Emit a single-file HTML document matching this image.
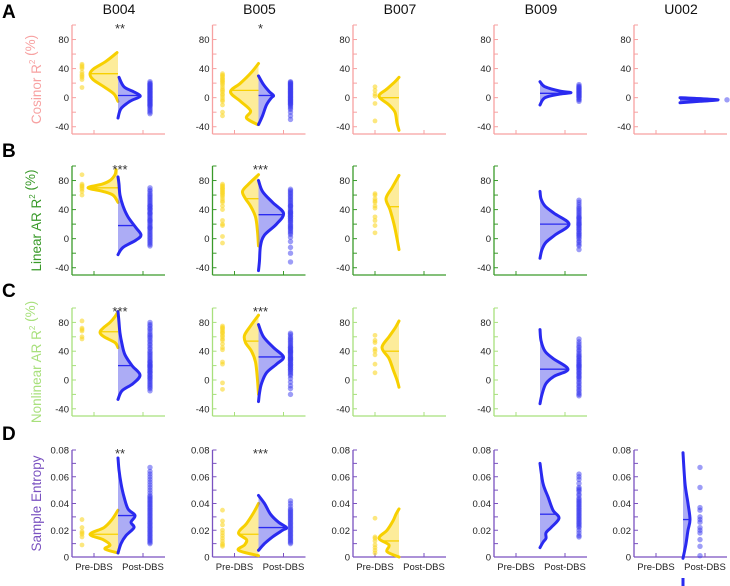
<!DOCTYPE html>
<html><head><meta charset="utf-8">
<style>
html,body{margin:0;padding:0;background:#fff;}
svg{display:block;font-family:"Liberation Sans",sans-serif;}
</style></head>
<body>
<svg id="chart" width="730" height="586" viewBox="0 0 730 586" xmlns="http://www.w3.org/2000/svg"></svg>
<script>
// ---- data ----
const subjects = ["B004","B005","B007","B009","U002"];
const rowLetters = ["A","B","C","D"];
const rowTitles = ["Cosinor R² (%)","Linear AR R² (%)","Nonlinear AR R² (%)","Sample Entropy"];
const rowColors = ["#f7a1a1","#3a9a2a","#a8e07c","#7a52c0"];
const pctTicks = [-40,0,40,80];
const pctMinor = [-40,-20,0,20,40,60,80,100];
const entTicks = [0,0.02,0.04,0.06,0.08];
const entTickLabels = ["0","0.02","0.04","0.06","0.08"];
const entMinor = [0,0.01,0.02,0.03,0.04,0.05,0.06,0.07,0.08];
const xCategories = ["Pre-DBS","Post-DBS"];
const sigLabels = [["**","*","","",""],["***","***","","",""],["***","***","","",""],["**","***","","",""]];

const preLevels = [
 [[-5,5,15,25,33,40,50,62],[-37,-28,-18,-5,8,20,35,47],[-45,-35,-20,-10,2,12,22,28],null,null],
 [[50,60,65,70,75,80,88,95],[-10,10,30,45,55,65,75,88],[-15,0,20,40,55,70,87],null,null],
 [[45,52,60,66,72,80,88,95],[-20,0,25,40,52,62,75,90],[-10,0,15,30,45,60,72,82],null,null],
 [[0.003,0.006,0.009,0.013,0.017,0.022,0.028,0.035],[0.001,0.005,0.009,0.013,0.018,0.025,0.033,0.04],[0,0.004,0.009,0.014,0.02,0.027,0.032,0.036],null,null]
];
const preDens = [
 [[0,4,14,25,28,24,12,1],[1,12,8,18,28,18,7,0],[0,2,4,10,20,12,4,0],null,null],
 [[0,5,15,30,16,8,3,2],[0,1,3,8,13,16,10,0],[0,2,5,9,13,7,0],null,null],
 [[0,3,14,18,15,8,3,0],[0,1,3,7,13,14,8,0],[0,2,6,10,17,10,4,0],null,null],
 [[0,13,8,15,28,14,6,0],[0,20,14,12,20,12,5,0],[0,12,10,20,12,6,3,0],null,null]
];
const preMedian = [[33,10,0,null,null],[70,55,44,null,null],[67,54,40,null,null],[0.017,0.017,0.012,null,null]];
const postLevels = [
 [[-28,-15,-5,0,3,8,15,28],[-37,-25,-10,0,3,8,18,30],null,[-10,0,5,7,9,15,22],[-7,-5,-3,-1,0]],
 [[-22,-12,-2,5,15,30,45,60,75,85],null,null,[-27,-15,-5,5,20,35,45,55,65],null],
 [[-27,-15,-5,7,20,35,50,65,80,95],null,null,[-33,-20,-5,5,15,30,40,55,70],null],
 [[0.003,0.01,0.016,0.022,0.026,0.031,0.036,0.045,0.055,0.065,0.074],null,null,[0.007,0.011,0.014,0.018,0.022,0.029,0.035,0.045,0.055,0.07],[-0.001,0.01,0.02,0.028,0.04,0.055,0.078]]
];
const postLevelsB = [[-44,-30,-10,5,20,35,50,65,80],[-30,-18,-5,10,22,32,45,60,77]];
const postDensB = [[0,1,2,6,18,25,14,4,0],[0,1,3,8,18,25,15,5,0]];
const postDensB005D = {levels:[0.005,0.01,0.015,0.02,0.022,0.026,0.032,0.04,0.046],dens:[0,6,14,24,28,20,12,6,0]};
const postDens = [
 [[0,3,12,20,22,16,6,1],[0,4,8,13,15,11,5,0],null,[0,5,20,31,20,5,0],[0,20,38,15,0]],
 [[0,5,18,23,18,10,5,2,1,0],null,null,[0,2,6,15,29,14,5,1,0],null],
 [[0,4,15,22,14,7,4,2,1,0],null,null,[0,2,6,14,28,13,5,1,0],null],
 [[0,3,8,16,13,17,10,6,3,1,0],null,null,[0,3,6,6,11,19,13,8,3,0],[0,3,5,7,5,2,0]]
];
const postMedian = [[3,3,null,6,-3],[18,33,null,20,null],[20,32,null,15,null],[0.031,0.022,null,0.032,0.028]];
postLevels[1][1]=postLevelsB[0]; postDens[1][1]=postDensB[0];
postLevels[2][1]=postLevelsB[1]; postDens[2][1]=postDensB[1];
postLevels[3][1]=postDensB005D.levels; postDens[3][1]=postDensB005D.dens;

const preDots = [
 [[46,44,42,40,35,32,30,28,25,14],[33,31,30,28,26,25,23,22,20,18,15,12,10,8,5,3,0,-3,-5,-10,-20,-25],[15,10,5,2,-8,-32],null,null],
 [[88,75,73,72,70,68,65,60],[75,73,72,70,69,68,66,65,63,62,60,58,55,52,50,45,40,25,20,18,3,-6],[62,60,55,52,50,45,42,30,25,18,8],null,null],
 [[82,72,70,68,60,57],[75,73,72,70,68,66,65,62,60,57,55,50,45,42,25,22,-4,-13],[62,55,52,43,40,35,22,10],null,null],
 [[0.028,0.022,0.019,0.018,0.017,0.015,0.009],[0.035,0.027,0.024,0.02,0.018,0.016,0.014,0.012,0.01,0.009,0.008],[0.029,0.015,0.014,0.012,0.009,0.007,0.005,0.003],null,null]
];
const postDots = [
 [[22,20,19,18,17,16,15,14,13,12,11,10,9,8,7,6,5,4,3,2,1,0,-1,-2,-3,-4,-5,-6,-7,-8,-9,-10,-11,-12,-14,-16,-18,-20,-22],[22,21,20,19,18,17,16,15,14,13,12,11,10,9,8,7,6,5,4,3,2,1,0,-1,-2,-3,-4,-5,-6,-7,-8,-9,-10,-12,-14,-16,-20,-25,-30],null,[18,16,15,14,13,12,11,10,9,8,7,6,5,4,3,2,1,0,-2,-3,-5],[-3]],
 [[70,67,65,62,60,58,56,54,52,50,48,46,45,44,42,41,40,38,36,35,34,32,30,28,26,25,24,22,20,18,16,15,14,12,10,8,6,4,2,0,-2,-4,-6,-8,-10],[68,66,64,62,60,58,56,54,52,50,48,46,45,44,42,40,38,37,36,35,34,32,31,30,28,27,25,24,22,20,18,17,15,14,12,10,8,6,2,-4,-12,-20,-32],null,[53,50,47,44,42,40,38,36,34,32,30,29,28,27,25,24,22,21,20,19,18,16,15,13,12,10,8,7,5,4,2,0,-3,-5,-8,-10,-15],null],
 [[80,77,75,72,70,67,64,62,60,58,55,53,50,48,45,43,40,38,36,34,32,30,28,26,25,24,22,21,20,19,18,17,15,14,12,11,10,8,6,5,3,2,0,-2,-4,-6,-8,-10,-12,-15],[65,63,60,58,56,54,52,50,48,46,45,44,42,41,40,39,38,37,35,34,32,31,30,29,28,27,25,24,22,21,20,18,17,15,14,12,10,8,6,2,-3,-8,-12,-20],null,[57,53,50,47,45,42,40,37,35,33,32,30,28,27,25,24,22,21,20,19,18,17,15,14,12,10,9,7,5,4,2,0,-3,-5,-8,-10,-13,-15,-18,-20,-22],null],
 [[0.067,0.064,0.062,0.06,0.058,0.056,0.054,0.052,0.05,0.048,0.046,0.045,0.044,0.043,0.042,0.041,0.04,0.039,0.038,0.037,0.036,0.035,0.034,0.033,0.032,0.031,0.03,0.029,0.028,0.027,0.026,0.025,0.024,0.023,0.022,0.021,0.02,0.019,0.018,0.017,0.016,0.015,0.014,0.013,0.012,0.011,0.01],[0.042,0.04,0.038,0.036,0.035,0.034,0.033,0.032,0.031,0.03,0.029,0.028,0.027,0.026,0.025,0.024,0.023,0.022,0.021,0.02,0.019,0.018,0.017,0.016,0.015,0.014,0.013,0.012,0.011,0.01],null,[0.062,0.06,0.058,0.055,0.052,0.051,0.05,0.049,0.047,0.046,0.044,0.043,0.042,0.041,0.04,0.039,0.038,0.037,0.036,0.035,0.034,0.033,0.032,0.031,0.03,0.029,0.028,0.027,0.026,0.025,0.024,0.023,0.022,0.02,0.018,0.016,0.015],[0.067,0.052,0.037,0.035,0.03,0.028,0.026,0.022,0.02,0.018,0.013,0.008,0.001]]
];
const panelExists = [[1,1,1,1,1],[1,1,1,1,0],[1,1,1,1,0],[1,1,1,1,1]];

// ---- layout ----
const colX = [72,212.5,353,494,634];
const rowGeom = [ {top:25,bottom:134,dmin:-50,dmax:100},{top:166,bottom:275,dmin:-50,dmax:100},{top:308,bottom:416,dmin:-50,dmax:100},{top:450,bottom:557,dmin:0,dmax:0.08} ];
const preDotOff = [10,10,22,22,22];
const postDotOff = [78,78,78,85,93];
const postDotOffD = [78,78,78,85,66];
const YEL="#f7d000", YELF="rgba(252,226,100,0.65)", BLU="#2a2af0", BLUF="rgba(90,90,235,0.5)", DOTY="rgba(250,215,40,0.6)", DOTB="rgba(60,60,240,0.5)";

const svg = document.getElementById('chart');
const NS="http://www.w3.org/2000/svg";
function mk(tag, attrs, parent){const e=document.createElementNS(NS,tag);for(const k in attrs)e.setAttribute(k,attrs[k]);(parent||svg).appendChild(e);return e;}
function yScale(r,v){const g=rowGeom[r];return g.bottom-(v-g.dmin)/(g.dmax-g.dmin)*(g.bottom-g.top);}
function smooth(pts){let d="M"+pts[0][0]+","+pts[0][1];for(let i=0;i<pts.length-1;i++){const p0=pts[Math.max(0,i-1)],p1=pts[i],p2=pts[i+1],p3=pts[Math.min(pts.length-1,i+2)];const c1=[p1[0]+(p2[0]-p0[0])/6,p1[1]+(p2[1]-p0[1])/6],c2=[p2[0]-(p3[0]-p1[0])/6,p2[1]-(p3[1]-p1[1])/6];d+=" C"+c1[0].toFixed(1)+","+c1[1].toFixed(1)+" "+c2[0].toFixed(1)+","+c2[1].toFixed(1)+" "+p2[0].toFixed(1)+","+p2[1].toFixed(1);}return d;}
function interp(levels,dens,v){for(let i=0;i<levels.length-1;i++){if(v>=levels[i]&&v<=levels[i+1]){const t=(v-levels[i])/(levels[i+1]-levels[i]);return dens[i]+t*(dens[i+1]-dens[i]);}}return 0;}

function drawViolin(g,r,split,levels,dens,median,dir,stroke,fill,name){
  const pts=levels.map((v,i)=>[split+dir*dens[i],yScale(r,v)]);
  const curve=smooth(pts);
  const area=mk('path',{d:curve+" L"+split+","+pts[pts.length-1][1]+" L"+split+","+pts[0][1]+" Z",fill:fill,stroke:"none"},g);
  
  
  const line=mk('path',{d:curve,fill:"none",stroke:stroke,"stroke-width":3,"stroke-linecap":"round"},g);
  
  
  if(median!==null){const w=interp(levels,dens,median);const ml=mk('line',{x1:split,x2:split+dir*w,y1:yScale(r,median),y2:yScale(r,median),stroke:stroke,"stroke-width":1.3},g);
  
  }
}

rowLetters.forEach((L,r)=>{const t=mk('text',{x:2,y:[18,157,297,440][r],"font-size":19,"font-weight":"bold",fill:"#000"});t.textContent=L;

});
subjects.forEach((s,c)=>{const t=mk('text',{x:colX[c]+47,y:14,"font-size":14,"text-anchor":"middle",fill:"#111"});t.textContent=s;

});

for(let r=0;r<4;r++){
  const gm=rowGeom[r];const col=rowColors[r];
  const ty=(gm.top+gm.bottom)/2;
  const tt=mk('text',{x:0,y:0,transform:"translate(41,"+ty+") rotate(-90)","font-size":13.5,"text-anchor":"middle",fill:col});
  if(r<3){tt.innerHTML=rowTitles[r].replace("R²","R<tspan font-size='8' dy='-6'>2</tspan><tspan dy='6'></tspan>");}else tt.textContent=rowTitles[r];
  
  
  for(let c=0;c<5;c++){
    if(!panelExists[r][c])continue;
    const x0=colX[c];
    const g=mk('g',{});
    
    
    mk('line',{x1:x0,x2:x0,y1:gm.top,y2:gm.bottom,stroke:col,"stroke-width":1.3},g);
    mk('line',{x1:x0,x2:x0+93,y1:gm.bottom,y2:gm.bottom,stroke:col,"stroke-width":1.3},g);
    const minor=r<3?pctMinor:entMinor;
    minor.forEach(v=>mk('line',{x1:x0,x2:x0+4,y1:yScale(r,v),y2:yScale(r,v),stroke:col,"stroke-width":1},g));
    const ticks=r<3?pctTicks:entTicks;
    ticks.forEach((v,i)=>{const t=mk('text',{x:x0-3,y:yScale(r,v)+3.5,"font-size":9.5,"text-anchor":"end",fill:"#222"},g);t.textContent=r<3?String(v):entTickLabels[i];
      
      });
    [22,71].forEach((o,i)=>{mk('line',{x1:x0+o,x2:x0+o,y1:gm.bottom,y2:gm.bottom-4,stroke:col,"stroke-width":1},g);
      if(r===3){const t=mk('text',{x:x0+o,y:gm.bottom+13,"font-size":9.5,"text-anchor":"middle",fill:"#222"},g);t.textContent=xCategories[i];
      
      }});
    const split=x0+46+(r===3&&c===4?3:0);
    if(preDots[r][c])preDots[r][c].forEach(v=>{const d=mk('circle',{cx:x0+preDotOff[c],cy:yScale(r,v),r:2.4,fill:DOTY},g);
      
      });
    if(postDots[r][c])postDots[r][c].forEach(v=>{const d=mk('circle',{cx:x0+(r===3?postDotOffD[c]:postDotOff[c]),cy:yScale(r,v),r:2.7,fill:DOTB},g);
      
      });
    if(preLevels[r][c])drawViolin(g,r,split,preLevels[r][c],preDens[r][c],preMedian[r][c],-1,YEL,YELF,'pre-dbs-violin');
    if(postLevels[r][c])drawViolin(g,r,split,postLevels[r][c],postDens[r][c],postMedian[r][c],1,BLU,BLUF,'post-dbs-violin');
    if(sigLabels[r][c]){const t=mk('text',{x:x0+48,y:gm.top+8,"font-size":13,"text-anchor":"middle",fill:"#333"},g);t.textContent=sigLabels[r][c];
      
      }
  }
}
const seg=mk('line',{x1:683,x2:683,y1:578,y2:586,stroke:BLU,"stroke-width":3});


</script>
</body></html>
